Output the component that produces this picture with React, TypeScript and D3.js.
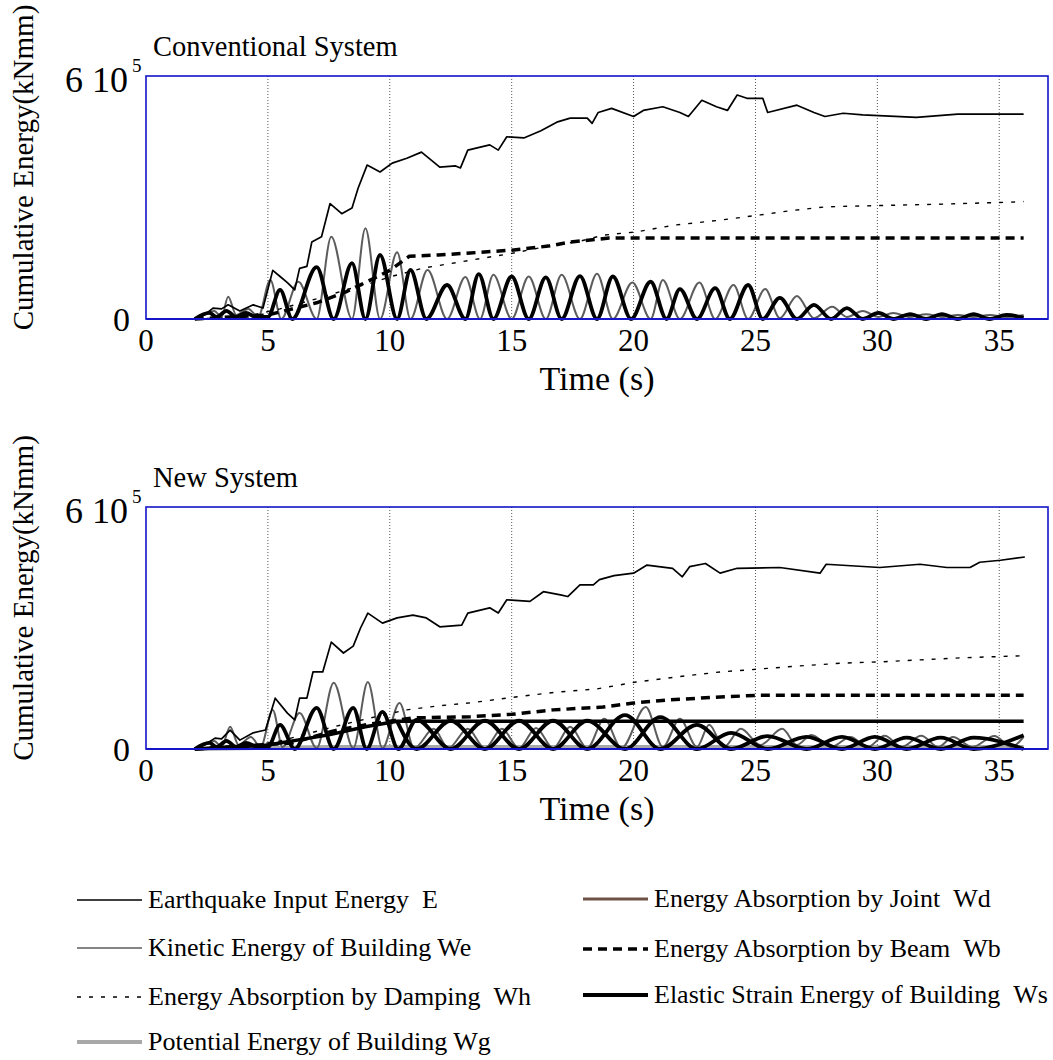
import React from "react";
import * as d3 from "d3";

type P = [number, number];

// ---------- Conventional System (values in 1e5 kNmm) ----------
const convE: P[] = [[2.0,0],[2.4,0.1],[2.75,0.27],[3.1,0.25],[3.37,0.35],[3.85,0.2],[4.4,0.35],[4.8,0.27],[5.2,1.2],[5.5,1.05],[5.8,0.9],[6.1,0.72],[6.3,1.25],[6.6,1.3],[6.8,1.9],[7.2,2.03],[7.55,2.85],[8.03,2.6],[8.45,2.74],[8.7,3.23],[9.07,3.8],[9.6,3.63],[10.1,3.85],[10.7,3.97],[11.3,4.12],[12.05,3.75],[12.7,3.78],[12.9,3.73],[13.2,4.17],[14.1,4.3],[14.45,4.17],[14.8,4.5],[15.5,4.47],[16.2,4.65],[16.85,4.86],[17.4,4.96],[18.1,4.96],[18.3,4.83],[18.55,5.1],[19.1,5.2],[20.0,5.0],[20.4,5.15],[21.2,5.24],[21.9,5.1],[22.25,5.0],[22.8,5.4],[23.4,5.24],[23.85,5.15],[24.25,5.53],[24.65,5.45],[25.3,5.45],[25.5,5.1],[26.7,5.28],[27.4,5.1],[27.85,5.0],[28.6,5.08],[29.4,5.04],[31.6,4.98],[33.3,5.06],[36.0,5.06]];
const convWe: P[] = [[2.0,0],[2.8,0.2],[3.1,0.05],[3.37,0.55],[3.7,0.1],[4.2,0.25],[4.6,0.05],[5.1,0.96],[5.55,0],[6.25,0.92],[7.0,0],[7.6,2.03],[8.45,0],[9.0,2.24],[9.6,0],[10.3,1.65],[10.85,0],[11.55,1.21],[12.35,0],[13.1,1.04],[13.7,0],[14.25,1.09],[15.0,0],[15.7,1.05],[16.4,0],[17.05,1.09],[17.8,0],[18.5,1.12],[19.15,0],[19.95,0.9],[20.7,0],[21.2,0.96],[21.9,0],[22.7,0.9],[23.35,0],[24.1,0.84],[24.7,0],[25.4,0.74],[26.0,0.02],[26.7,0.57],[27.4,0.02],[28.15,0.3],[28.75,0.05],[29.4,0.2],[30.05,0.05],[30.65,0.15],[31.35,0.05],[32.0,0.12],[32.65,0.05],[33.3,0.1],[33.95,0.05],[34.6,0.1],[35.3,0.05],[36.0,0.1]];
const convWs: P[] = [[2.0,0],[2.6,0.15],[2.9,0.05],[3.3,0.2],[3.7,0.05],[4.1,0.15],[4.5,0.05],[5.0,0.05],[5.5,0.72],[6.0,0],[7.0,1.28],[7.7,0],[8.45,1.38],[9.0,0],[9.6,1.58],[10.3,0],[10.85,1.21],[11.5,0],[12.35,0.84],[13.1,0],[13.65,1.11],[14.25,0],[15.0,1.05],[15.7,0],[16.4,1.03],[17.05,0],[17.8,1.06],[18.5,0],[19.15,1.05],[19.9,0],[20.7,0.92],[21.35,0],[21.9,0.74],[22.6,0],[23.35,0.76],[23.95,0],[24.7,0.84],[25.3,0],[26.0,0.52],[26.7,0],[27.4,0.35],[28.1,0],[28.75,0.27],[29.4,0],[30.05,0.15],[30.65,0],[31.35,0.12],[32.0,0],[32.65,0.12],[33.3,0],[33.95,0.12],[34.6,0],[35.3,0.1],[36.0,0.03]];
const convWh: P[] = [[2,0],[4,0.05],[5.5,0.25],[7,0.5],[8.2,0.72],[9.2,0.88],[10,1.04],[11.4,1.26],[13.4,1.46],[15,1.62],[16.5,1.8],[17.8,1.92],[18.75,2.07],[20.1,2.15],[21.7,2.32],[23.55,2.44],[25.2,2.57],[26.5,2.68],[27.9,2.77],[30,2.8],[32.9,2.84],[35.7,2.89],[36,2.9]];
const convWb: P[] = [[2,0],[5,0.1],[7,0.4],[8.2,0.67],[9.2,0.96],[10,1.2],[10.8,1.55],[12,1.58],[13.3,1.63],[15,1.7],[16.5,1.8],[17.4,1.9],[19,2.0],[20,2.0],[36,2.0]];

// ---------- New System ----------
const newE: P[] = [[2.0,0],[2.4,0.1],[2.83,0.27],[3.1,0.25],[3.45,0.47],[3.85,0.22],[4.4,0.4],[4.9,0.47],[5.3,1.26],[5.8,0.89],[6.1,0.72],[6.3,1.26],[6.6,1.26],[6.85,1.91],[7.25,1.91],[7.6,2.65],[8.1,2.38],[8.5,2.55],[8.8,3.0],[9.1,3.37],[9.7,3.12],[10.3,3.25],[10.95,3.32],[11.5,3.25],[12.05,3.03],[12.95,3.07],[13.2,3.37],[14.1,3.5],[14.45,3.37],[14.8,3.7],[15.75,3.66],[16.3,3.9],[17.0,3.82],[17.3,3.78],[17.8,4.07],[18.35,4.07],[18.6,4.2],[19.2,4.3],[20.0,4.36],[20.55,4.56],[21.6,4.48],[22.0,4.27],[22.3,4.52],[22.95,4.6],[23.55,4.36],[24.25,4.48],[26.0,4.5],[27.65,4.36],[27.9,4.58],[30.1,4.5],[31.75,4.58],[32.85,4.5],[33.8,4.5],[34.2,4.63],[35.05,4.68],[36.05,4.76]];
const newWe: P[] = [[2.0,0],[2.8,0.2],[3.1,0.05],[3.45,0.55],[3.8,0.1],[4.3,0.3],[4.7,0.05],[5.2,0.97],[5.6,0.05],[6.3,0.89],[7.0,0.02],[7.7,1.64],[8.5,0.02],[9.1,1.66],[9.7,0.02],[10.4,1.14],[11.0,0.02],[11.8,0.5],[12.4,0.02],[13.2,0.5],[13.9,0.02],[14.6,0.5],[15.3,0.02],[16.0,0.52],[16.7,0.02],[17.4,0.55],[18.1,0.02],[18.8,0.75],[19.5,0.02],[20.5,1.04],[21.2,0.05],[21.9,0.75],[22.6,0.05],[23.1,0.6],[23.7,0.05],[24.4,0.5],[25.2,0.1],[26.1,0.5],[26.7,0.1],[27.3,0.35],[28.1,0.05],[28.9,0.3],[29.6,0.05],[30.3,0.33],[31.0,0.05],[31.8,0.33],[32.5,0.05],[33.1,0.3],[33.9,0.05],[34.8,0.32],[35.5,0.05],[36.0,0.3]];
// two thick black strain-energy traces in antiphase (drawn in the same style)
const newWsA: P[] = [[2,0],[2.6,0.15],[2.9,0.05],[3.3,0.2],[3.7,0.05],[4.1,0.15],[4.6,0.05],[5.0,0.05],[5.5,0.6],[6.1,0],[7.0,1.02],[7.7,0],[8.5,1.02],[9.05,0],[9.7,0.92],[10.35,0],[11.1,0.72],[12.5,0],[13.9,0.7],[15.3,0],[16.7,0.7],[18.1,0],[19.65,0.84],[21.1,0],[22.6,0.6],[24.0,0],[25.5,0.32],[27.1,0],[28.55,0.3],[29.9,0],[31.2,0.28],[32.6,0],[33.95,0.28],[36.0,0]];
const newWsB: P[] = [[10.3,0.69],[11.1,0],[12.5,0.7],[13.9,0],[15.3,0.7],[16.7,0],[18.1,0.7],[19.65,0],[21.1,0.79],[22.6,0],[24.0,0.4],[25.5,0],[27.1,0.3],[28.55,0],[29.9,0.3],[31.2,0],[32.6,0.28],[33.95,0],[36.0,0.34]];
const newWh: P[] = [[2,0],[4,0.05],[5.5,0.2],[7.7,0.55],[9.2,0.77],[10.7,0.97],[12,1.07],[13.4,1.15],[15.15,1.29],[16.85,1.41],[18.5,1.49],[20.1,1.66],[21.8,1.79],[23.55,1.91],[25.1,1.98],[26.8,2.06],[28.6,2.13],[30.1,2.16],[33.4,2.26],[35.9,2.31]];
const newWb: P[] = [[2,0],[6,0.15],[7.7,0.45],[9.2,0.62],[10.95,0.77],[13.3,0.8],[15.0,0.86],[16.7,0.97],[18.75,1.04],[20,1.14],[21.5,1.22],[23.55,1.29],[25.1,1.33],[36,1.33]];
const newWd: P[] = [[2,0],[5,0.1],[7.5,0.35],[9,0.55],[10.3,0.69],[36,0.69]];
const newWg: P[] = [[2,0],[7.5,0.05],[36,0.05]];

const xTicks = [0, 5, 10, 15, 20, 25, 30, 35];
const gridTicks = [5, 10, 15, 20, 25, 30, 35];

const FONT = "'Liberation Serif', 'Times New Roman', serif";

type Style = { stroke: string; width: number; dash?: string };
const S: Record<string, Style> = {
  E: { stroke: "#000", width: 1.7 },
  We: { stroke: "#5c5c5c", width: 2 },
  Wh: { stroke: "#000", width: 1.4, dash: "4,8" },
  Wg: { stroke: "#a8a8a8", width: 4 },
  Wd: { stroke: "#000", width: 3.5 },
  WdLeg: { stroke: "#6e5247", width: 3 },
  Wb: { stroke: "#000", width: 3.5, dash: "9,6" },
  Ws: { stroke: "#000", width: 3.8 },
};

const X0 = 146, X1 = 1048;
const x = d3.scaleLinear().domain([0, 37]).range([X0, X1]);

function Chart({ top, bottom, title, series }: { top: number; bottom: number; title: string; series: { data: P[]; st: Style; smooth?: boolean }[] }) {
  const y = d3.scaleLinear().domain([0, 6]).range([bottom, top]);
  const mk = (smooth?: boolean) =>
    d3.line<P>().x((d) => x(d[0])).y((d) => y(d[1])).curve(smooth ? d3.curveMonotoneX : d3.curveLinear);
  const midY = top - 30 + (bottom - top) / 2;
  return (
    <g>
      <text x={153} y={top - 20} fontSize={28.5} fontFamily={FONT}>{title}</text>
      {gridTicks.map((t) => (
        <line key={t} x1={x(t)} x2={x(t)} y1={top} y2={bottom} stroke="#555" strokeWidth={1} strokeDasharray="1,2" />
      ))}
      {series.map((s, i) => (
        <path key={i} d={mk(s.smooth)(s.data) || ""} fill="none" stroke={s.st.stroke} strokeWidth={s.st.width}
          strokeDasharray={s.st.dash} strokeLinejoin="round" />
      ))}
      <rect x={X0} y={top} width={X1 - X0} height={bottom - top} fill="none" stroke="#1515c8" strokeWidth={1.6} />
      <line x1={X0} x2={X1} y1={bottom} y2={bottom} stroke="#1515c8" strokeWidth={2.2} />
      {xTicks.map((t) => (
        <text key={t} x={x(t)} y={bottom + 32} fontSize={31} fontFamily={FONT} textAnchor="middle">{t}</text>
      ))}
      <text x={x(18.5)} y={bottom + 71} fontSize={34} fontFamily={FONT} textAnchor="middle">Time (s)</text>
      <text x={130} y={bottom + 12} fontSize={34} fontFamily={FONT} textAnchor="end">0</text>
      <text x={128} y={top + 16} fontSize={36} fontFamily={FONT} textAnchor="end">6 10</text>
      <text x={132} y={top - 4} fontSize={19} fontFamily={FONT}>5</text>
      <text transform={`translate(33,${midY}) rotate(-90)`} fontSize={29} fontFamily={FONT} textAnchor="middle">Cumulative Energy(kNmm)</text>
    </g>
  );
}

function LegendItem({ x1, yy, st, label }: { x1: number; yy: number; st: Style; label: string }) {
  return (
    <g>
      <line x1={x1} x2={x1 + 65} y1={yy} y2={yy} stroke={st.stroke} strokeWidth={st.width} strokeDasharray={st.dash} />
      <text x={x1 + 71} y={yy + 8} fontSize={26} fontFamily={FONT}>{label}</text>
    </g>
  );
}

export default function App() {
  const conv = [
    { data: convWe, st: S.We, smooth: true },
    { data: convWs, st: S.Ws, smooth: true },
    { data: convWb, st: S.Wb },
    { data: convWh, st: S.Wh },
    { data: convE, st: S.E },
  ];
  const nw = [
    { data: newWg, st: S.Wg },
    { data: newWe, st: S.We, smooth: true },
    { data: newWsA, st: S.Ws, smooth: true },
    { data: newWsB, st: S.Ws, smooth: true },
    { data: newWd, st: S.Wd },
    { data: newWb, st: S.Wb },
    { data: newWh, st: S.Wh },
    { data: newE, st: S.E },
  ];
  const sp = "\u00A0\u00A0";
  return (
    <svg width={1053} height={1060} style={{ position: "absolute", left: 0, top: 0, background: "#fff" }}>
      <Chart top={76} bottom={319} title="Conventional System" series={conv} />
      <Chart top={507} bottom={749} title="New System" series={nw} />
      <LegendItem x1={77} yy={900} st={S.E} label={`Earthquake Input Energy${sp}E`} />
      <LegendItem x1={77} yy={948} st={{ ...S.We, width: 1.4 }} label="Kinetic Energy of Building We" />
      <LegendItem x1={77} yy={997} st={S.Wh} label={`Energy Absorption by Damping${sp}Wh`} />
      <LegendItem x1={77} yy={1042} st={S.Wg} label="Potential Energy of Building Wg" />
      <LegendItem x1={583} yy={899} st={S.WdLeg} label={`Energy Absorption by Joint${sp}Wd`} />
      <LegendItem x1={583} yy={949} st={S.Wb} label={`Energy Absorption by Beam${sp}Wb`} />
      <LegendItem x1={583} yy={995} st={S.Ws} label={`Elastic Strain Energy of Building${sp}Ws`} />
    </svg>
  );
}
